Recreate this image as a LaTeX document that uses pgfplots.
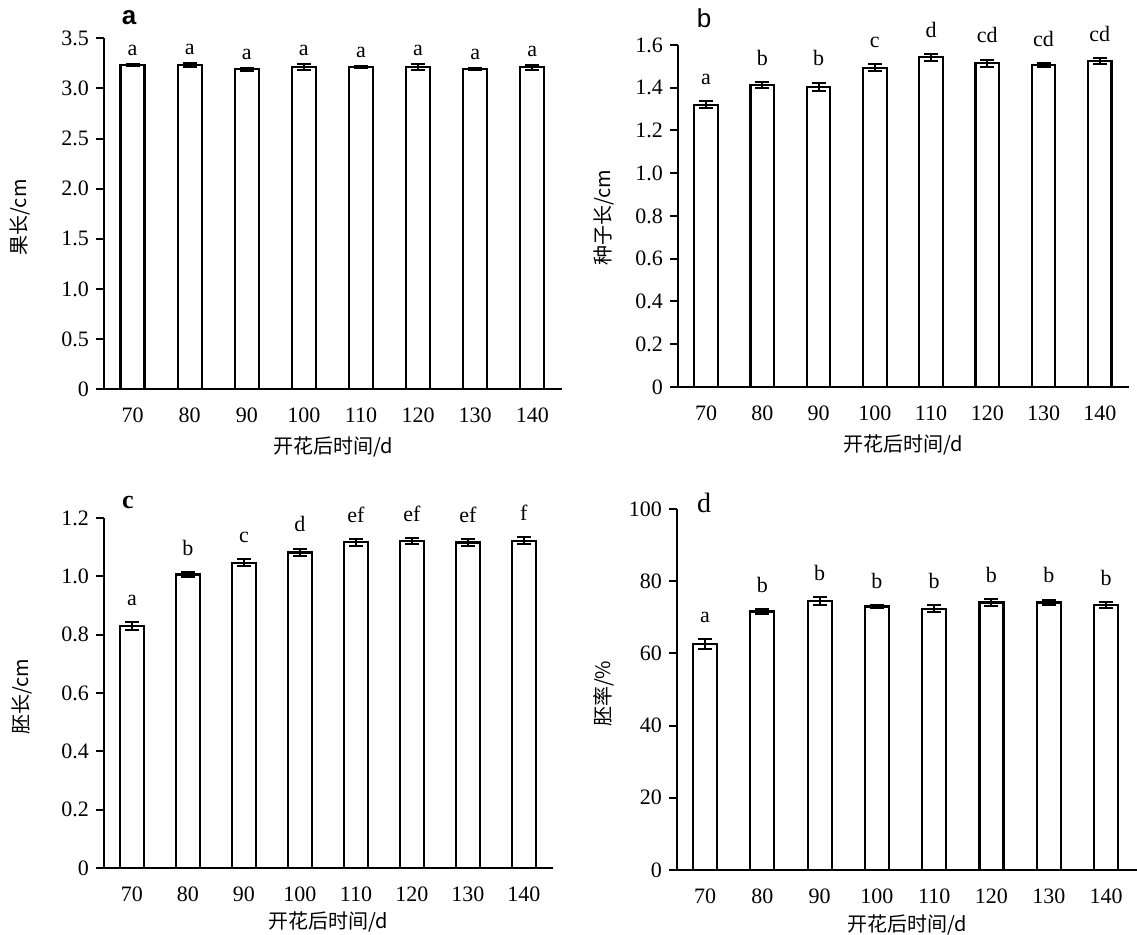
\documentclass[border=0pt]{standalone}
\usepackage{pgfplots}
\pgfplotsset{compat=1.18}
\usepackage{pgfplotstable}
\usepackage{fontspec}
\setmainfont{Liberation Serif}
\setsansfont{Liberation Sans}
\newfontfamily\cjk{Noto Sans CJK SC}

\pgfplotstableread{
x y e l
0 3.23 0.010 a
1 3.23 0.020 a
2 3.19 0.015 a
3 3.21 0.030 a
4 3.21 0.010 a
5 3.21 0.030 a
6 3.19 0.010 a
7 3.21 0.025 a
}\tA
\pgfplotstableread{
x y e l
0 1.320 0.017 a
1 1.413 0.012 b
2 1.405 0.019 b
3 1.494 0.016 c
4 1.542 0.017 d
5 1.514 0.018 cd
6 1.506 0.010 cd
7 1.525 0.015 cd
}\tB
\pgfplotstableread{
x y e l
0 0.829 0.014 a
1 1.006 0.008 b
2 1.046 0.012 c
3 1.082 0.013 d
4 1.117 0.012 ef
5 1.122 0.010 ef
6 1.116 0.013 ef
7 1.122 0.012 f
}\tC
\pgfplotstableread{
x y e l
0 62.6 1.4 a
1 71.6 0.7 b
2 74.5 1.1 b
3 73.0 0.3 b
4 72.4 1.0 b
5 74.1 1.0 b
6 74.1 0.8 b
7 73.4 0.9 b
}\tD

\pgfplotsset{
  panel/.style={
    scale only axis,
    anchor=south west,
    axis lines=left,
    axis line style={-, line width=1.1pt},
    ymin=0, xmin=-0.5, xmax=7.52,
    xtick={0,...,7},
    xticklabels={70,80,90,100,110,120,130,140},
    x tick style={draw=none},
    y tick style={line width=1pt, black},
    tick align=outside,
    major tick length=4pt,
    ytick pos=left,
    /pgf/number format/assume math mode=true,
    tick label style={font=\fontsize{11}{12}\selectfont},
    xticklabel style={yshift=-2pt},
    clip=false,
  },
  ylab/.style={every axis y label/.style={at={(axis description cs:#1)}, rotate=90, anchor=center, font=\cjk\fontsize{10}{12}\selectfont}},
  xlab/.style={every axis x label/.style={at={(axis description cs:0.5,#1)}, anchor=center, font=\cjk\fontsize{10}{12}\selectfont}},
  mybar/.style={ybar, bar width=0.42, bar shift=0pt, fill=white, draw=black, line width=1.1pt,
    error bars/.cd, y dir=both, y explicit,
    error bar style={line width=1pt, black},
    error mark options={rotate=90, mark size=3.5pt, line width=1pt, black}},
  letters/.style={draw=none, mark=none, nodes near coords, point meta=explicit symbolic,
    every node near coord/.append style={font=\fontsize{11}{12}\selectfont, anchor=south, inner sep=1pt, yshift=#1, black}},
}

\begin{document}
\begin{tikzpicture}
\path[use as bounding box] (0,0) rectangle (568.5pt,467.5pt);

% panel a
\begin{axis}[panel, at={(52pt,272.85pt)}, width=229pt, height=175.5pt,
  ymax=3.5, ytick={0,0.5,...,3.5}, yticklabels={0,0.5,1.0,1.5,2.0,2.5,3.0,3.5},
  ylabel={果长/cm}, xlabel={开花后时间/d},
  ylab={-0.183,0.49}, xlab={-0.165}]
\addplot[mybar] table[x=x, y=y, y error=e] {\tA};
\addplot[letters=3pt] table[x=x, y expr=\thisrow{y}+\thisrow{e}, meta=l] {\tA};
\node[font=\sffamily\bfseries\fontsize{13}{14}\selectfont] at (axis description cs:0.055,1.058) {a};
\end{axis}

% panel b
\begin{axis}[panel, at={(339pt,274pt)}, width=225.5pt, height=171pt,
  ymax=1.6, ytick={0,0.2,...,1.6}, yticklabels={0,0.2,0.4,0.6,0.8,1.0,1.2,1.4,1.6},
  ylabel={种子长/cm}, xlabel={开花后时间/d},
  ylab={-0.164,0.494}, xlab={-0.170}]
\addplot[mybar] table[x=x, y=y, y error=e] {\tB};
\addplot[letters=7pt] table[x=x, y expr=\thisrow{y}+\thisrow{e}, meta=l] {\tB};
\node[font=\sffamily\fontsize{13}{14}\selectfont] at (axis description cs:0.058,1.079) {b};
\end{axis}

% panel c
\begin{axis}[panel, at={(52pt,33.5pt)}, width=224.5pt, height=175pt,
  ymax=1.2, ytick={0,0.2,...,1.2}, yticklabels={0,0.2,0.4,0.6,0.8,1.0,1.2},
  ylabel={胚长/cm}, xlabel={开花后时间/d},
  ylab={-0.183,0.489}, xlab={-0.154}]
\addplot[mybar] table[x=x, y=y, y error=e] {\tC};
\addplot[letters=7pt] table[x=x, y expr=\thisrow{y}+\thisrow{e}, meta=l] {\tC};
\node[font=\bfseries\fontsize{13}{14}\selectfont] at (axis description cs:0.053,1.043) {c};
\end{axis}

% panel d
\begin{axis}[panel, at={(338.5pt,32.5pt)}, width=230pt, height=180.5pt,
  ymax=100, ytick={0,20,...,100}, xmin=-0.49, xmax=7.54,
  ylabel={胚率/\%}, xlabel={开花后时间/d},
  ylab={-0.159,0.488}, xlab={-0.152}]
\addplot[mybar] table[x=x, y=y, y error=e] {\tD};
\addplot[letters=7pt] table[x=x, y expr=\thisrow{y}+\thisrow{e}, meta=l] {\tD};
\node[font=\fontsize{14}{15}\selectfont] at (axis description cs:0.059,1.017) {d};
\end{axis}
\end{tikzpicture}
\end{document}
